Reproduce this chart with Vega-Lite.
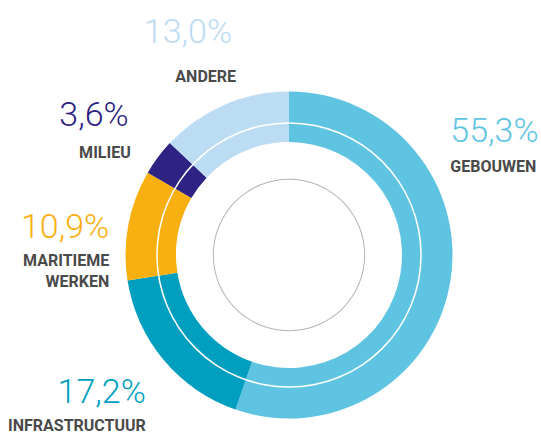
{
  "$schema": "https://vega.github.io/schema/vega-lite/v6.json",
  "width": 327,
  "height": 327,
  "autosize": "none",
  "padding": {"left": 125.5, "top": 91.5, "right": 88.5, "bottom": 17.5},
  "background": "white",
  "view": {"stroke": null},
  "data": {"values": [
    {"cat": "Gebouwen", "label": "GEBOUWEN", "pct": "55,3%", "value": 55.3, "rank": 1},
    {"cat": "Infrastructuur", "label": "INFRASTRUCTUUR", "pct": "17,2%", "value": 17.2, "rank": 2},
    {"cat": "Maritieme werken", "label": "MARITIEME WERKEN", "pct": "10,9%", "value": 10.9, "rank": 3},
    {"cat": "Milieu", "label": "MILIEU", "pct": "3,6%", "value": 3.6, "rank": 4},
    {"cat": "Andere", "label": "ANDERE", "pct": "13,0%", "value": 13.0, "rank": 5}
  ]},
  "config": {"text": {"font": "Roboto"}},
  "layer": [
    {
      "mark": {"type": "arc", "radius": 163.5, "radius2": 113},
      "encoding": {
        "theta": {"field": "value", "type": "quantitative", "stack": true},
        "order": {"field": "rank", "type": "quantitative"},
        "color": {"field": "cat", "type": "nominal", "sort": null, "legend": null,
          "scale": {"domain": ["Gebouwen", "Infrastructuur", "Maritieme werken", "Milieu", "Andere"],
                    "range": ["#5ec4e2", "#009fc0", "#f8af10", "#2e2382", "#bcdcf4"]}}
      }
    },
    {
      "mark": {"type": "arc", "radius": 132.8, "radius2": 131.3, "color": "white"},
      "encoding": {"theta": {"field": "value", "type": "quantitative", "aggregate": "sum"}}
    },
    {
      "mark": {"type": "arc", "radius": 76.2, "radius2": 75.2, "color": "#b4b4b4"},
      "encoding": {"theta": {"field": "value", "type": "quantitative", "aggregate": "sum"}}
    },
    {
      "mark": {"type": "text", "radius": 190, "align": "left", "baseline": "alphabetic", "fontSize": 34, "fontWeight": 300, "dx": -26, "dy": -144.5},
      "encoding": {
        "theta": {"field": "value", "type": "quantitative", "stack": true},
        "order": {"field": "rank", "type": "quantitative"},
        "color": {"field": "cat", "type": "nominal", "sort": null, "legend": null},
        "text": {"condition": {"test": "datum.cat === 'Gebouwen'", "field": "pct"}, "value": ""}
      }
    },
    {
      "mark": {"type": "text", "radius": 190, "align": "right", "baseline": "alphabetic", "fontSize": 34, "fontWeight": 300, "dx": 2.5, "dy": 26},
      "encoding": {
        "theta": {"field": "value", "type": "quantitative", "stack": true},
        "order": {"field": "rank", "type": "quantitative"},
        "color": {"field": "cat", "type": "nominal", "sort": null, "legend": null},
        "text": {"condition": {"test": "datum.cat === 'Infrastructuur'", "field": "pct"}, "value": ""}
      }
    },
    {
      "mark": {"type": "text", "radius": 190, "align": "right", "baseline": "alphabetic", "fontSize": 34, "fontWeight": 300, "dx": 7, "dy": 18},
      "encoding": {
        "theta": {"field": "value", "type": "quantitative", "stack": true},
        "order": {"field": "rank", "type": "quantitative"},
        "color": {"field": "cat", "type": "nominal", "sort": null, "legend": null},
        "text": {"condition": {"test": "datum.cat === 'Maritieme werken'", "field": "pct"}, "value": ""}
      }
    },
    {
      "mark": {"type": "text", "radius": 190, "align": "right", "baseline": "alphabetic", "fontSize": 34, "fontWeight": 300, "dx": -8, "dy": -15},
      "encoding": {
        "theta": {"field": "value", "type": "quantitative", "stack": true},
        "order": {"field": "rank", "type": "quantitative"},
        "color": {"field": "cat", "type": "nominal", "sort": null, "legend": null},
        "text": {"condition": {"test": "datum.cat === 'Milieu'", "field": "pct"}, "value": ""}
      }
    },
    {
      "mark": {"type": "text", "radius": 190, "align": "right", "baseline": "alphabetic", "fontSize": 34, "fontWeight": 300, "dx": 18.5, "dy": -37.5},
      "encoding": {
        "theta": {"field": "value", "type": "quantitative", "stack": true},
        "order": {"field": "rank", "type": "quantitative"},
        "color": {"field": "cat", "type": "nominal", "sort": null, "legend": null},
        "text": {"condition": {"test": "datum.cat === 'Andere'", "field": "pct"}, "value": ""}
      }
    },
    {
      "mark": {"type": "text", "radius": 190, "align": "left", "baseline": "alphabetic", "fontSize": 16, "fontWeight": "bold", "color": "#4a4a4a", "dx": -26, "dy": -114.5},
      "encoding": {
        "theta": {"field": "value", "type": "quantitative", "stack": true},
        "order": {"field": "rank", "type": "quantitative"},
        "text": {"condition": {"test": "datum.cat === 'Gebouwen'", "field": "label"}, "value": ""}
      }
    },
    {
      "mark": {"type": "text", "radius": 190, "align": "right", "baseline": "alphabetic", "fontSize": 16, "fontWeight": "bold", "color": "#4a4a4a", "dx": 2.5, "dy": 54},
      "encoding": {
        "theta": {"field": "value", "type": "quantitative", "stack": true},
        "order": {"field": "rank", "type": "quantitative"},
        "text": {"condition": {"test": "datum.cat === 'Infrastructuur'", "field": "label"}, "value": ""}
      }
    },
    {
      "mark": {"type": "text", "radius": 190, "align": "right", "baseline": "alphabetic", "fontSize": 16, "fontWeight": "bold", "color": "#4a4a4a", "dx": 7, "dy": 46, "lineBreak": " ", "lineHeight": 21},
      "encoding": {
        "theta": {"field": "value", "type": "quantitative", "stack": true},
        "order": {"field": "rank", "type": "quantitative"},
        "text": {"condition": {"test": "datum.cat === 'Maritieme werken'", "field": "label"}, "value": ""}
      }
    },
    {
      "mark": {"type": "text", "radius": 190, "align": "right", "baseline": "alphabetic", "fontSize": 16, "fontWeight": "bold", "color": "#4a4a4a", "dx": -6, "dy": 16.5},
      "encoding": {
        "theta": {"field": "value", "type": "quantitative", "stack": true},
        "order": {"field": "rank", "type": "quantitative"},
        "text": {"condition": {"test": "datum.cat === 'Milieu'", "field": "label"}, "value": ""}
      }
    },
    {
      "mark": {"type": "text", "radius": 190, "align": "right", "baseline": "alphabetic", "fontSize": 16, "fontWeight": "bold", "color": "#4a4a4a", "dx": 22.5, "dy": 1},
      "encoding": {
        "theta": {"field": "value", "type": "quantitative", "stack": true},
        "order": {"field": "rank", "type": "quantitative"},
        "text": {"condition": {"test": "datum.cat === 'Andere'", "field": "label"}, "value": ""}
      }
    }
  ]
}
